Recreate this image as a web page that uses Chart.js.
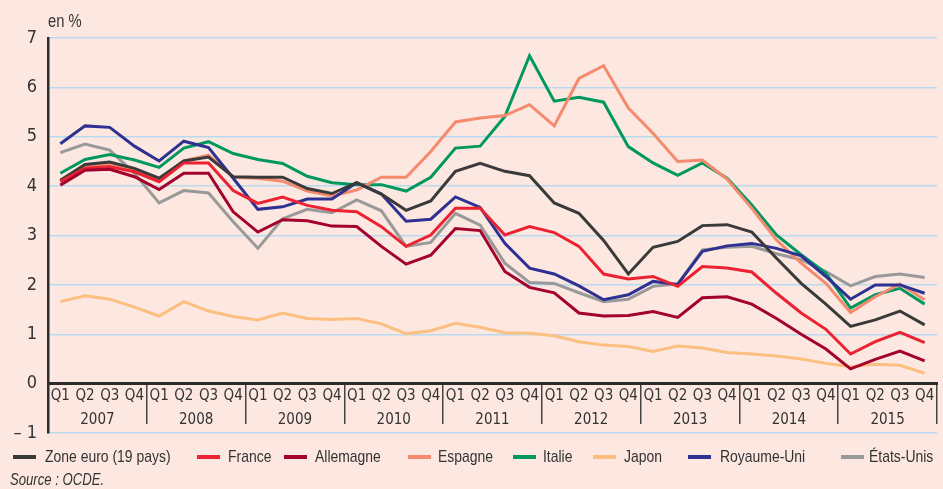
<!DOCTYPE html>
<html>
<head>
<meta charset="utf-8">
<script src="https://cdn.jsdelivr.net/npm/chart.js@4/dist/chart.umd.min.js"></script>
<style>
  html, body { margin: 0; padding: 0; background: #fde8e1; }
  #wrap { position: relative; width: 943px; height: 489px; background: #fde8e1; overflow: hidden;
          font-family: 'Liberation Sans', Arial, sans-serif; color: #333; }
  #c { position: absolute; left: 0; top: 0; }
  .nar { display: inline-block; transform: scaleX(0.82); transform-origin: 0 50%; white-space: nowrap; }
  .unit { position: absolute; left: 48px; top: 10px; font-size: 18px; line-height: 22px; }
  .lg { position: absolute; top: 447px; height: 20px; font-size: 17px; line-height: 20px; white-space: nowrap; }
  .lg i { position: absolute; top: 8px; height: 4px; width: 23px; }
  .src { position: absolute; left: 10px; top: 470px; font-size: 16px; line-height: 20px; font-style: italic; }
</style>
</head>
<body>
<div id="wrap">
  <canvas id="c" width="943" height="489"></canvas>
  <div class="unit"><span class="nar">en %</span></div>
  <div id="legend"></div>
  <div class="src"><span class="nar">Source : OCDE.</span></div>
</div>
<script>
// ---- Data ----
const quarterNames = ['Q1','Q2','Q3','Q4'];
const years = ['2007','2008','2009','2010','2011','2012','2013','2014','2015'];
const quarters = [];
years.forEach(() => quarterNames.forEach(q => quarters.push(q)));

const zoneEuro = [4.12,4.44,4.49,4.36, 4.16,4.51,4.59,4.19, 4.18,4.18,3.95,3.85, 4.07,3.84,3.51,3.70,
                  4.30,4.46,4.30,4.21, 3.66,3.45,2.90,2.22, 2.76,2.88,3.20,3.22, 3.07,2.54,2.03,1.61,
                  1.16,1.29,1.47,1.19];
const france = [4.09,4.36,4.39,4.29, 4.09,4.47,4.47,3.91, 3.65,3.78,3.61,3.51, 3.48,3.18,2.78,3.01,
                3.55,3.55,3.01,3.18, 3.06,2.78,2.22,2.12, 2.17,1.97,2.37,2.34, 2.26,1.83,1.43,1.10,
                0.60,0.85,1.04,0.83];
const allemagne = [4.02,4.32,4.34,4.19, 3.93,4.26,4.26,3.48, 3.07,3.32,3.30,3.19, 3.18,2.78,2.42,2.60,
                   3.14,3.10,2.27,1.95, 1.84,1.43,1.37,1.38, 1.46,1.34,1.74,1.76, 1.61,1.32,1.00,0.70,
                   0.30,0.49,0.66,0.46];
const espagne = [4.09,4.39,4.44,4.32, 4.12,4.51,4.63,4.18, 4.16,4.10,3.90,3.80, 3.92,4.18,4.18,4.70,
                 5.30,5.38,5.43,5.65, 5.22,6.18,6.44,5.58, 5.07,4.50,4.53,4.14, 3.55,2.91,2.44,2.03,
                 1.44,1.76,2.02,1.70];
const italie = [4.26,4.54,4.64,4.53, 4.38,4.77,4.90,4.66, 4.54,4.46,4.20,4.07, 4.03,4.03,3.90,4.18,
                4.77,4.81,5.41,6.64, 5.72,5.80,5.70,4.80, 4.47,4.22,4.47,4.16, 3.62,3.01,2.61,2.24,
                1.53,1.80,1.93,1.61];
const japon = [1.66,1.78,1.71,1.55, 1.37,1.66,1.47,1.36, 1.29,1.43,1.32,1.30, 1.32,1.21,1.01,1.07,
               1.22,1.14,1.03,1.02, 0.97,0.85,0.78,0.75, 0.65,0.76,0.72,0.63, 0.60,0.56,0.50,0.41,
               0.34,0.39,0.37,0.21];
const royaumeUni = [4.86,5.22,5.19,4.81, 4.51,4.91,4.78,4.16, 3.53,3.58,3.74,3.74, 4.07,3.84,3.29,3.33,
                    3.78,3.57,2.84,2.34, 2.22,1.98,1.70,1.80, 2.07,2.01,2.68,2.79, 2.84,2.74,2.59,2.17,
                    1.71,2.00,2.00,1.83];
const etatsUnis = [4.68,4.85,4.73,4.26, 3.66,3.91,3.86,3.28, 2.74,3.34,3.53,3.46, 3.72,3.50,2.78,2.86,
                   3.45,3.21,2.44,2.05, 2.03,1.84,1.66,1.71, 1.97,2.02,2.71,2.76, 2.78,2.63,2.51,2.27,
                   1.98,2.17,2.22,2.15];

const seriesNames = ['Zone euro (19 pays)','France','Allemagne','Espagne','Italie','Japon','Royaume-Uni','États-Unis'];
const seriesData = [zoneEuro, france, allemagne, espagne, italie, japon, royaumeUni, etatsUnis];
const seriesColors = ['#3a3a3a','#ec2232','#a3022c','#f48a6e','#00985f','#fcbf80','#2e3192','#999999'];
const yTicks = [-1,0,1,2,3,4,5,6,7];

// ---- Legend (HTML) ----
const legendPos = [[13,45],[197,228],[284,315],[408,438],[513,543],[593,624],[688,720],[841,869]];
const lg = document.getElementById('legend');
seriesNames.forEach((n, i) => {
  const m = document.createElement('div');
  m.className = 'lg';
  m.style.left = legendPos[i][0] + 'px';
  m.innerHTML = '<i style="left:0;background:' + seriesColors[i] + '"></i>' +
    '<span style="position:absolute;left:' + (legendPos[i][1] - legendPos[i][0]) + 'px"><span class="nar">' + n + '</span></span>';
  lg.appendChild(m);
});

// ---- Chart ----
const FONT = "'DejaVu Sans Condensed', 'Liberation Sans Narrow', sans-serif";
const datasets = seriesNames.map((n, i) => ({
  label: n,
  data: seriesData[i],
  borderColor: seriesColors[i],
  backgroundColor: seriesColors[i],
  borderWidth: 3,
  pointRadius: 0,
  fill: false,
  tension: 0,
  xAxisID: 'x',
  order: [3,2,1,5,6,8,4,7][i]
}));

new Chart(document.getElementById('c'), {
  type: 'line',
  data: { labels: quarters, datasets },
  options: {
    responsive: false,
    animation: false,
    layout: { padding: { top: 38, right: 6, bottom: 56, left: 0 } },
    plugins: { legend: { display: false }, tooltip: { enabled: false } },
    scales: {
      y: {
        min: -1, max: 7,
        afterFit: s => { s.width = 48; },
        ticks: {
          stepSize: 1,
          padding: 11,
          color: '#333',
          font: { family: FONT, size: 18 },
          callback: v => (v === -1 ? '\u2013 1' : String(v))
        },
        afterBuildTicks: s => { s.ticks = yTicks.map(v => ({ value: v })); },
        grid: { color: '#b9d9ef', lineWidth: 1.5, drawTicks: false },
        border: { display: true, color: '#2b2b2b', width: 2.5 }
      },
      x: {
        type: 'category',
        position: { y: 0 },
        offset: true,
        grid: { display: true, drawOnChartArea: false, drawTicks: false },
        border: { display: true, color: '#2b2b2b', width: 3 },
        ticks: {
          autoSkip: false, maxRotation: 0, padding: 3,
          color: '#333', font: { family: FONT, size: 15 }
        }
      },
      x2: {
        type: 'category',
        labels: years,
        position: { y: 0 },
        offset: true,
        grid: {
          display: true, offset: true, drawOnChartArea: false, drawTicks: true, tickLength: 40,
          lineWidth: 1.5,
          color: c => (c.index === 0 || c.index === years.length) ? 'rgba(0,0,0,0)' : '#444'
        },
        border: { display: false },
        ticks: {
          autoSkip: false, maxRotation: 0, padding: -13,
          color: '#333', font: { family: FONT, size: 15 }
        }
      }
    }
  }
});
</script>
</body>
</html>
